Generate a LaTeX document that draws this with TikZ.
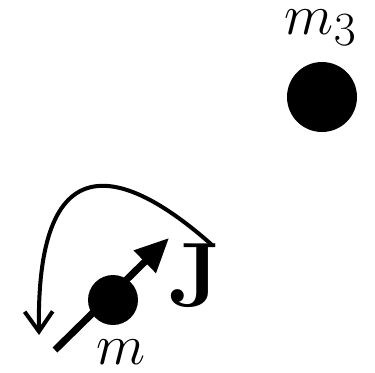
\documentclass[tikz,border=0pt]{standalone}
\usetikzlibrary{arrows.meta}
\begin{document}
\begin{tikzpicture}[x=0.5pt,y=0.5pt,
  mass/.style={circle,fill=black,inner sep=0pt},
  lab/.style={inner sep=0pt,font=\Huge,scale=1.15}]
  \useasboundingbox (0,0) rectangle (375,372);

  \node[mass,minimum size=35pt] (m3) at (322,275) {};
  \node[lab] (m3lab) at (321,344.5) {\(m_3\)};

  \node[mass,minimum size=25pt] (m) at (113,72) {};
  \node[lab] (mlab) at (121,19.5) {\(m\)};

  \coordinate (tail) at (55,22);
  \coordinate (tip) at (169,134);
  \draw[line width=3.5pt,-{Triangle[length=17pt,width=15pt]}] (tail) -- (tip);
  \node[lab,scale=1.6] (J) at (195,96.5) {\(\mathbf{J}\)};

  \coordinate (swirlstart) at (212,127);
  \coordinate (swirlend) at (39,37);
  \draw[line width=2pt,-{Straight Barb[length=10pt,width=14pt]}]
    (swirlstart) .. controls (130,200) and (36,238) .. (swirlend);
\end{tikzpicture}
\end{document}
